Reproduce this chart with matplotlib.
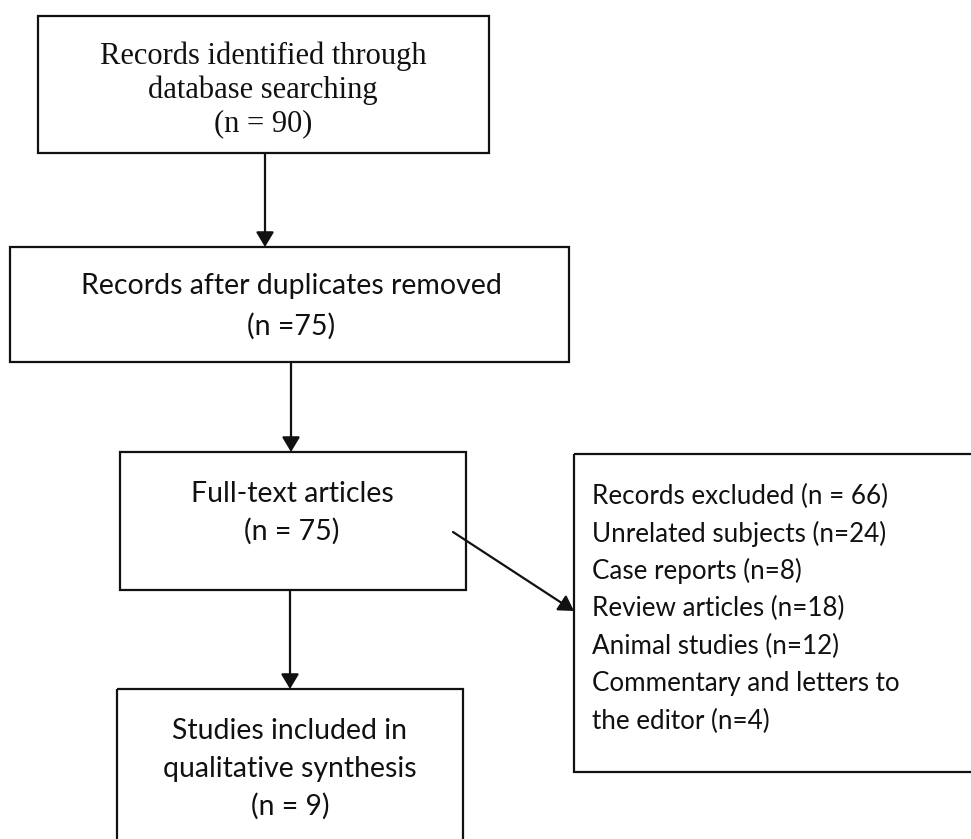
import matplotlib
matplotlib.use("Agg")
import matplotlib.pyplot as plt
from matplotlib.patches import Rectangle

# ---- data (texts of the flow diagram) ----
box_identified = ["Records identified through", "database searching", "(n = 90)"]
box_dedup = ["Records after duplicates removed", "(n =75)"]
box_fulltext = ["Full-text articles", "(n = 75)"]
box_excluded = ["Records excluded (n = 66)", "Unrelated subjects (n=24)", "Case reports (n=8)",
                "Review articles (n=18)", "Animal studies (n=12)", "Commentary and letters to",
                "the editor (n=4)"]
box_included = ["Studies included in", "qualitative synthesis", "(n = 9)"]

W, H = 971, 839
fig = plt.figure(figsize=(W / 100, H / 100), dpi=100)
ax = fig.add_axes([0, 0, 1, 1])
ax.set_xlim(0, W)
ax.set_ylim(H, 0)
ax.axis("off")

LW = 1.6
INK = "#111111"
SERIF = ["Liberation Serif", "DejaVu Serif"]
SANS = ["Lato", "DejaVu Sans"]


def box(x0, y0, x1, y1):
    ax.add_patch(Rectangle((x0, y0), x1 - x0, y1 - y0, fill=False, lw=LW,
                           edgecolor=INK, clip_on=True))


def lines(texts, x, y0, dy, family, size, ha="center"):
    for i, t in enumerate(texts):
        ax.text(x, y0 + i * dy, t, ha=ha, va="center", fontsize=size,
                family=family, color=INK)


def arrow(x0, y0, x1, y1):
    ax.annotate("", xy=(x1, y1), xytext=(x0, y0),
                arrowprops=dict(arrowstyle="-|>,head_length=0.45,head_width=0.27",
                                mutation_scale=20, lw=LW, color=INK,
                                shrinkA=0, shrinkB=0))


# boxes
box(38, 16, 489, 153)
box(10, 247, 569, 362)
box(120, 452, 466, 590)
box(574, 454, 980, 772)
box(117, 689, 463, 850)

# texts
lines(box_identified, 263, 56, 34, SERIF, 22)
lines(box_dedup, 291, 286, 40, SANS, 20.5)
lines(box_fulltext, 292, 494, 37, SANS, 20.5)
lines(box_excluded, 592, 496, 37.5, SANS, 18.7, ha="left")
lines(box_included, 290, 731, 37.5, SANS, 20.4)

# arrows
arrow(265, 153, 265, 247)
arrow(291, 362, 291, 452)
arrow(453, 532, 574, 611)
arrow(290, 590, 290, 689)

fig.savefig("out.png", dpi=100, facecolor="white")
